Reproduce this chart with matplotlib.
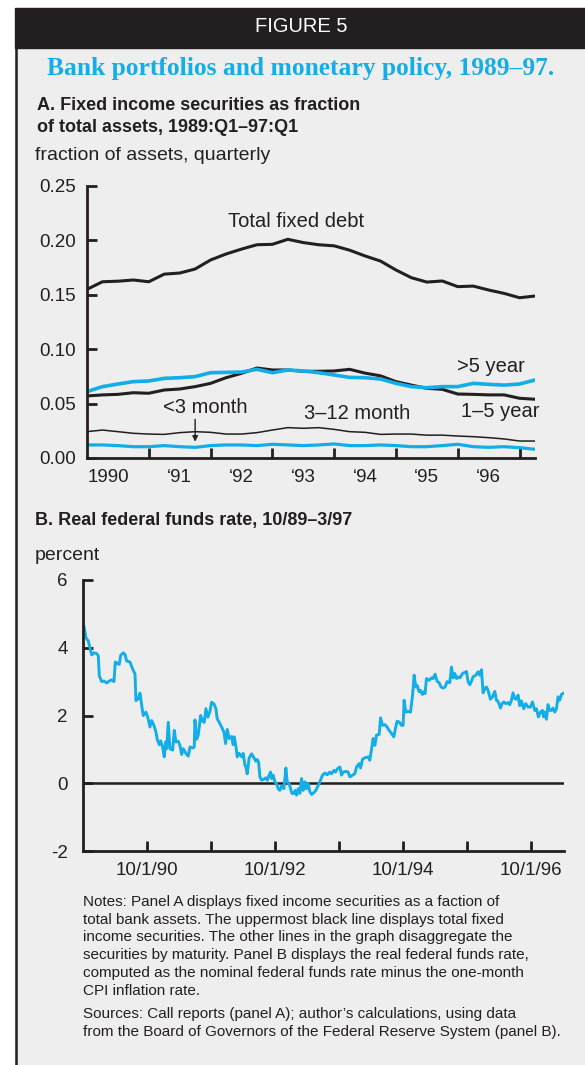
import numpy as np
import matplotlib.pyplot as plt
from matplotlib.patches import Rectangle
from matplotlib.lines import Line2D

plt.rcParams['font.family'] = ['Liberation Sans', 'DejaVu Sans']

BLUE = '#12aee9'
INK = '#231f20'
PANEL = '#eeeeee'
W, H = 585, 1065

# ---------------- Panel A: quarterly shares of total assets ----------------
quarters = 1990 + 0.25 * np.arange(30)
total = [0.155, 0.162, 0.1625, 0.1636, 0.162, 0.169, 0.170, 0.1737, 0.182, 0.1875,
         0.192, 0.196, 0.1964, 0.201, 0.198, 0.196, 0.195, 0.191, 0.1857, 0.181,
         0.1728, 0.1657, 0.1617, 0.1627, 0.1575, 0.158, 0.1544, 0.1513, 0.1473, 0.1489]
one_five = [0.057, 0.058, 0.0585, 0.060, 0.0595, 0.0625, 0.0634, 0.0656, 0.0686, 0.0738,
            0.0778, 0.0827, 0.0809, 0.0809, 0.0797, 0.0797, 0.080, 0.0815, 0.078, 0.0755,
            0.0702, 0.067, 0.064, 0.0631, 0.0588, 0.0585, 0.058, 0.058, 0.0549, 0.054]
over_five = [0.061, 0.0656, 0.068, 0.0702, 0.0708, 0.0732, 0.0738, 0.0748, 0.0784, 0.0787,
             0.079, 0.0815, 0.0784, 0.0809, 0.080, 0.0784, 0.0763, 0.0741, 0.0738, 0.0726,
             0.0686, 0.0656, 0.0646, 0.0656, 0.0656, 0.0686, 0.0677, 0.067, 0.068, 0.0717]
three_twelve = [0.0242, 0.0257, 0.0242, 0.0227, 0.022, 0.0217, 0.0233, 0.0242, 0.0236, 0.022,
                0.022, 0.0233, 0.0257, 0.0279, 0.0273, 0.0279, 0.0263, 0.0242, 0.0236, 0.0217,
                0.022, 0.022, 0.021, 0.021, 0.0202, 0.0196, 0.0187, 0.0175, 0.0156, 0.0156]
under_three = [0.012, 0.012, 0.0114, 0.0104, 0.0104, 0.0114, 0.0104, 0.0098, 0.0114, 0.012,
               0.012, 0.0114, 0.0126, 0.012, 0.0114, 0.012, 0.0129, 0.0114, 0.0114, 0.012,
               0.0114, 0.0104, 0.0104, 0.0114, 0.0126, 0.0104, 0.0098, 0.0104, 0.0095, 0.008]

a_yticks = [0, 0.05, 0.10, 0.15, 0.20, 0.25]
a_xticks = [1991, 1992, 1993, 1994, 1995, 1996, 1997]
a_year_pos = [1990.35, 1991.5, 1992.5, 1993.5, 1994.5, 1995.5, 1996.5]
a_year_lab = ['1990', '\u201891', '\u201892', '\u201893', '\u201894', '\u201895', '\u201896']

# ---------------- Panel B: real federal funds rate ----------------
ff_dates = [
    1989.766, 1989.797, 1989.833, 1989.859, 1989.886, 1989.922, 1989.964, 1989.989,
    1990.005, 1990.042, 1990.078, 1990.120, 1990.161, 1990.198, 1990.234, 1990.255,
    1990.286, 1990.317, 1990.339, 1990.380, 1990.406, 1990.433, 1990.484, 1990.527,
    1990.563, 1990.578, 1990.614, 1990.641, 1990.667, 1990.692, 1990.734, 1990.770,
    1990.797, 1990.823, 1990.859, 1990.891, 1990.911, 1990.942, 1990.964, 1990.995,
    1991.020, 1991.042, 1991.058, 1991.083, 1991.109, 1991.152, 1991.177, 1991.203,
    1991.239, 1991.266, 1991.292, 1991.317, 1991.359, 1991.395, 1991.422, 1991.464,
    1991.489, 1991.500, 1991.527, 1991.552, 1991.589, 1991.620, 1991.645, 1991.672,
    1991.703, 1991.734, 1991.761, 1991.797, 1991.828, 1991.848, 1991.880, 1991.917,
    1991.953, 1991.980, 1992.005, 1992.036, 1992.073, 1992.098, 1992.114, 1992.141,
    1992.161, 1992.192, 1992.230, 1992.255, 1992.281, 1992.297, 1992.317, 1992.348,
    1992.386, 1992.422, 1992.453, 1992.473, 1992.495, 1992.516, 1992.542, 1992.578,
    1992.609, 1992.630, 1992.661, 1992.683, 1992.698, 1992.723, 1992.750, 1992.777,
    1992.802, 1992.828, 1992.855, 1992.891, 1992.922, 1992.942, 1992.973, 1992.995,
    1993.016, 1993.047, 1993.067, 1993.089, 1993.114, 1993.141, 1993.167, 1993.192,
    1993.219, 1993.245, 1993.270, 1993.297, 1993.323, 1993.348, 1993.391, 1993.427,
    1993.453, 1993.495, 1993.531, 1993.567, 1993.609, 1993.636, 1993.672, 1993.698,
    1993.730, 1993.766, 1993.792, 1993.817, 1993.859, 1993.895, 1993.922, 1993.964,
    1994.000, 1994.027, 1994.067, 1994.089, 1994.120, 1994.156, 1994.208, 1994.234,
    1994.261, 1994.286, 1994.313, 1994.339, 1994.380, 1994.402, 1994.433, 1994.469,
    1994.505, 1994.536, 1994.573, 1994.609, 1994.641, 1994.661, 1994.692, 1994.730,
    1994.755, 1994.770, 1994.797, 1994.833, 1994.870, 1994.902, 1994.927, 1994.953,
    1994.973, 1995.005, 1995.027, 1995.058, 1995.078, 1995.098, 1995.120, 1995.161,
    1995.198, 1995.223, 1995.255, 1995.286, 1995.317, 1995.348, 1995.380, 1995.411,
    1995.442, 1995.484, 1995.511, 1995.536, 1995.563, 1995.589, 1995.614, 1995.641,
    1995.683, 1995.719, 1995.745, 1995.770, 1995.797, 1995.823, 1995.848, 1995.891,
    1995.927, 1995.953, 1995.980, 1996.005, 1996.031, 1996.058, 1996.083, 1996.120,
    1996.152, 1996.188, 1996.214, 1996.239, 1996.277, 1996.302, 1996.328, 1996.359,
    1996.395, 1996.422, 1996.448, 1996.473, 1996.500, 1996.527, 1996.552, 1996.578,
    1996.605, 1996.641, 1996.672, 1996.708, 1996.745, 1996.777, 1996.813, 1996.839,
    1996.870, 1996.902, 1996.933, 1996.953, 1996.973, 1996.995, 1997.020, 1997.047,
    1997.073, 1997.098, 1997.125, 1997.152, 1997.177, 1997.203, 1997.230, 1997.255]
ff_values = [
    4.63, 4.29, 4.20, 4.00, 3.79, 3.85, 3.83, 3.76,
    3.17, 3.00, 3.02, 2.96, 3.02, 3.05, 3.00, 3.58,
    3.54, 3.51, 3.78, 3.85, 3.80, 3.61, 3.58, 3.37,
    3.22, 2.44, 2.49, 2.66, 2.31, 2.00, 2.10, 1.90,
    1.66, 1.85, 1.71, 1.51, 1.29, 1.14, 1.25, 1.07,
    0.78, 1.22, 1.02, 1.80, 1.02, 0.98, 1.56, 1.22,
    1.24, 1.12, 0.85, 1.02, 0.88, 0.80, 1.07, 1.04,
    1.07, 1.87, 1.30, 1.42, 2.00, 1.83, 1.80, 2.20,
    1.95, 2.12, 2.39, 2.34, 2.20, 1.90, 1.80, 1.66,
    1.51, 1.17, 1.59, 1.32, 1.38, 1.14, 1.37, 1.09,
    0.78, 0.88, 0.78, 0.88, 0.54, 0.48, 0.28, 0.75,
    0.87, 0.75, 0.65, 0.70, 0.63, 0.19, 0.09, 0.12,
    0.16, 0.09, 0.24, 0.33, 0.14, 0.24, 0.04, -0.01,
    -0.16, -0.21, -0.08, -0.16, 0.45, 0.04, -0.01, -0.16,
    -0.30, -0.30, -0.21, -0.35, -0.16, -0.30, 0.14, -0.21,
    0.04, -0.16, -0.01, -0.25, -0.33, -0.30, -0.21, -0.06,
    0.04, 0.24, 0.30, 0.25, 0.33, 0.28, 0.38, 0.33,
    0.43, 0.48, 0.24, 0.33, 0.35, 0.33, 0.19, 0.24,
    0.28, 0.48, 0.58, 0.45, 0.71, 0.75, 0.78, 0.68,
    1.02, 1.32, 1.12, 1.42, 1.44, 1.93, 1.71, 1.73,
    1.66, 1.56, 1.47, 1.37, 1.67, 1.83, 1.81, 1.71,
    1.71, 2.45, 2.10, 2.12, 2.10, 2.60, 3.19, 2.84,
    2.89, 2.70, 2.74, 2.62, 2.70, 2.65, 3.09, 3.04,
    3.11, 3.09, 3.22, 3.01, 2.97, 2.84, 2.81, 2.84,
    3.00, 2.97, 3.43, 3.11, 3.24, 3.09, 3.14, 3.11,
    3.24, 3.27, 3.30, 3.00, 2.91, 3.01, 3.14, 3.19,
    3.29, 3.19, 3.35, 2.67, 2.79, 2.84, 2.74, 2.48,
    2.55, 2.71, 2.45, 2.42, 2.22, 2.35, 2.40, 2.35,
    2.38, 2.32, 2.45, 2.67, 2.50, 2.48, 2.60, 2.29,
    2.43, 2.20, 2.35, 2.25, 2.25, 2.40, 2.15, 2.20,
    1.96, 2.10, 2.15, 1.96, 2.10, 1.89, 2.32, 2.15,
    2.15, 2.22, 2.10, 2.20, 2.55, 2.45, 2.62, 2.65]

b_yticks = [-2, 0, 2, 4, 6]
b_xticks = [1990.75, 1991.75, 1992.75, 1993.75, 1994.75, 1995.75, 1996.75]
b_xlabels = ['10/1/90', '', '10/1/92', '', '10/1/94', '', '10/1/96']

notes = ("Notes: Panel A displays fixed income securities as a faction of\n"
         "total bank assets. The uppermost black line displays total fixed\n"
         "income securities. The other lines in the graph disaggregate the\n"
         "securities by maturity. Panel B displays the real federal funds rate,\n"
         "computed as the nominal federal funds rate minus the one-month\n"
         "CPI inflation rate.")
sources = ("Sources: Call reports (panel A); author\u2019s calculations, using data\n"
           "from the Board of Governors of the Federal Reserve System (panel B).")


def box(x, y, w, h):
    # pixel box measured from the top-left corner -> figure fractions
    return [x / W, 1 - (y + h) / H, w / W, h / H]


def ftext(x, y, s, **kw):
    fig.text(x / W, 1 - y / H, s, **kw)


def style_axes(ax):
    ax.set_facecolor('none')
    for side in ['top', 'right']:
        ax.spines[side].set_visible(False)
    for side in ['left', 'bottom']:
        ax.spines[side].set_linewidth(2)
        ax.spines[side].set_color(INK)
    ax.tick_params(which='major', direction='in', length=7, width=2, color=INK,
                   labelsize=13.5, labelcolor=INK)


fig = plt.figure(figsize=(W / 100, H / 100), dpi=100)

# frame: grey panel, dark header bar, left rule
fig.add_artist(Rectangle((15 / W, 0), 1, 1 - 48 / H, transform=fig.transFigure,
                         color=PANEL, zorder=0))
fig.add_artist(Rectangle((15 / W, 1 - 48 / H), 1, 40 / H, transform=fig.transFigure,
                         color=INK, zorder=0))
fig.add_artist(Line2D([16 / W, 16 / W], [0, 1 - 48 / H], transform=fig.transFigure,
                      color=INK, lw=1.8))

ftext(301, 27, 'FIGURE 5', color='white', fontsize=14.5, ha='center', va='center')
ftext(301, 68, 'Bank portfolios and monetary policy, 1989\u201397.', color=BLUE,
      family=['Liberation Serif', 'DejaVu Serif'], weight='bold', fontsize=18.4,
      ha='center', va='center')

# ---- panel A ----
ftext(37, 106, 'A. Fixed income securities as fraction', fontsize=13,
      weight='bold', color=INK, va='center')
ftext(37, 128, 'of total assets, 1989:Q1\u201397:Q1', fontsize=13,
      weight='bold', color=INK, va='center')
ftext(35, 155, 'fraction of assets, quarterly', fontsize=14, color=INK, va='center')

axA = fig.add_axes(box(87, 186, 448, 272))
style_axes(axA)
axA.plot(quarters, total, color=INK, lw=2.2)
axA.plot(quarters, one_five, color=INK, lw=2.2)
axA.plot(quarters, three_twelve, color=INK, lw=1.1)
axA.plot(quarters, over_five, color=BLUE, lw=2.6)
axA.plot(quarters, under_three, color=BLUE, lw=2.3)
axA.set_xlim(1990, 1997.25)
axA.set_ylim(0, 0.25)
axA.set_yticks(a_yticks, [f'{v:.2f}' for v in a_yticks])
axA.set_xticks(a_xticks, [''] * len(a_xticks))
axA.set_xticks(a_year_pos, a_year_lab, minor=True)
axA.tick_params(axis='y', pad=8)
axA.tick_params(axis='x', which='minor', length=0, pad=8, labelsize=13.5, labelcolor=INK)

label_kw = dict(fontsize=14.5, color=INK, ha='center', va='center')
axA.text(1993.39, 0.217, 'Total fixed debt', **label_kw)
axA.text(1991.92, 0.046, '<3 month', **label_kw)
axA.text(1994.37, 0.041, '3\u201312 month', **label_kw)
axA.text(1996.53, 0.084, '>5 year', **label_kw)
axA.text(1996.69, 0.043, '1\u20135 year', **label_kw)
axA.annotate('', xy=(1991.75, 0.0150), xytext=(1991.75, 0.0355),
             arrowprops=dict(arrowstyle='-|>', color=INK, lw=1, mutation_scale=8,
                             shrinkA=0, shrinkB=0))

# ---- panel B ----
ftext(35, 521, 'B. Real federal funds rate, 10/89\u20133/97', fontsize=13,
      weight='bold', color=INK, va='center')
ftext(35, 555, 'percent', fontsize=14, color=INK, va='center')

axB = fig.add_axes(box(83, 580, 481, 271))
style_axes(axB)
axB.axhline(0, color=INK, lw=1.8)
axB.plot(ff_dates, ff_values, color=BLUE, lw=2.1)
axB.set_xlim(1989.75, 1997.27)
axB.set_ylim(-2, 6)
axB.set_yticks(b_yticks, [str(v) for v in b_yticks])
axB.set_xticks(b_xticks, b_xlabels)
axB.tick_params(axis='y', pad=11)
axB.tick_params(axis='x', pad=8)

# ---- notes ----
ftext(83, 895, notes, fontsize=11, color=INK, va='top', linespacing=1.34)
ftext(83, 1007, sources, fontsize=11, color=INK, va='top', linespacing=1.34)

fig.savefig('out.png', dpi=100, facecolor='white')
